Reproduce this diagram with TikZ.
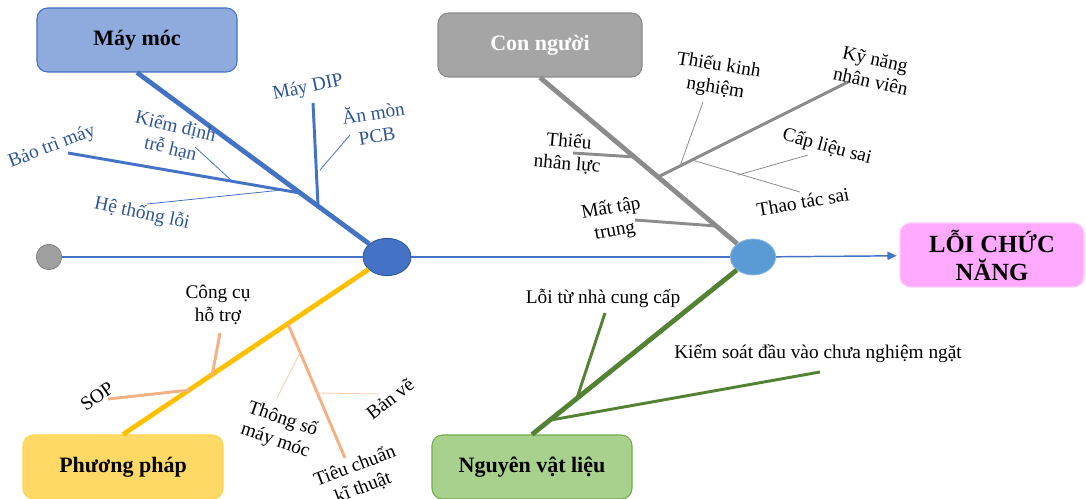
\documentclass[tikz,border=0pt]{standalone}
\usepackage{fontspec}
\setmainfont{Liberation Serif}
\usetikzlibrary{arrows.meta,shapes.geometric}
\definecolor{mayfill}{HTML}{8FAADC}
\definecolor{mayline}{HTML}{4472C4}
\definecolor{maytext}{HTML}{2F5597}
\definecolor{conline}{HTML}{8C8C8C}
\definecolor{confill}{HTML}{A5A5A5}
\definecolor{ppline}{HTML}{FFC000}
\definecolor{ppfill}{HTML}{FFD966}
\definecolor{ppsub}{HTML}{F4B183}
\definecolor{pptwig}{HTML}{F8CBAD}
\definecolor{nvline}{HTML}{548235}
\definecolor{nvfill}{HTML}{A9D18E}
\definecolor{nvdraw}{HTML}{70AD47}
\definecolor{lofill}{HTML}{FFA9FF}
\definecolor{lodraw}{HTML}{FFCCFF}
\definecolor{headfill}{HTML}{5B9BD5}
\tikzset{
  catbox/.style={draw,rounded corners=8pt,line width=0.8pt,minimum width=150pt,
    minimum height=48pt,font=\fontsize{16.5}{19}\selectfont\bfseries},
  bone/.style={line width=3.6pt},
  subbone/.style={line width=2.2pt},
  twig/.style={line width=0.6pt},
  lbl/.style={align=center,inner sep=0pt,font=\fontsize{14.5}{17}\selectfont},
}
\begin{document}
\begin{tikzpicture}[x=0.75pt,y=-0.75pt]
\useasboundingbox (0,0) rectangle (1086,499);
% category boxes and head
\node[catbox,fill=mayfill,draw=mayline] (may) at (137,40) {Máy móc};
\node[catbox,fill=confill,draw=conline,text=white,minimum width=153pt] (con) at (540,45) {Con người};
\node[catbox,fill=ppfill,draw=ppline!70] (pp) at (123,467) {Phương pháp};
\node[catbox,fill=nvfill,draw=nvdraw] (nv) at (532,467) {Nguyên vật liệu};
\node[catbox,fill=lofill,draw=lodraw,minimum width=138pt,align=center,
  font=\fontsize{18.5}{21}\selectfont\bfseries] (lo) at (992,255) {LỖI CHỨC\\NĂNG};
% spine
\node[circle,fill=gray!75,draw=gray,line width=0.6pt,minimum size=19pt,inner sep=0pt] (tail) at (49,257) {};
\node[ellipse,fill=mayline,draw=maytext,line width=0.6pt,minimum width=36pt,minimum height=28pt,inner sep=0pt] (e1) at (387,257) {};
\node[ellipse,fill=headfill,draw=headfill!70,line width=0.6pt,minimum width=34pt,minimum height=27pt,inner sep=0pt] (e2) at (753,257) {};
\draw[mayline,line width=1.1pt] (tail) -- (e1);
\draw[mayline,line width=1.1pt] (e1) -- (e2);
\draw[mayline,line width=1.1pt,-{Triangle[length=7pt,width=6pt]},shorten >=2pt] (e2) -- (lo);

% May moc
\coordinate (bt) at (68,153);
\coordinate (btj) at (300,193);
\coordinate (dip) at (313,103);
\coordinate (dipj) at (318,205);
\coordinate (amj) at (320,170);
\coordinate (am) at (350,135);
\coordinate (kd) at (195,147);
\coordinate (kdj) at (232,181);
\coordinate (ht) at (147,204);
\coordinate (htj) at (282,190);
\draw[bone,mayline] (may.south) -- (e1);
\draw[subbone,mayline] (bt) -- (btj);
\draw[subbone,mayline] (dip) -- (dipj);
\draw[twig,mayline] (amj) -- (am);
\draw[twig,mayline] (kd) -- (kdj);
\draw[twig,mayline] (ht) -- (htj);
\node[lbl,text=maytext,rotate=21] (lbt) at (52,147) {Bảo trì máy};
\node[lbl,text=maytext,rotate=-13] (lkd) at (173,138) {Kiểm định\\trễ hạn};
\node[lbl,text=maytext,rotate=12] (ldip) at (308,88) {Máy DIP};
\node[lbl,text=maytext,rotate=9] (lam) at (375,123) {Ăn mòn\\PCB};
\node[lbl,text=maytext,rotate=-12] (lht) at (142,214) {Hệ thống lỗi};

% Con nguoi
\coordinate (tnl) at (573,153);
\coordinate (tnlj) at (635,157);
\coordinate (mtt) at (635,220);
\coordinate (mttj) at (716,226);
\coordinate (knj) at (658,177);
\coordinate (kn) at (848,82);
\coordinate (tkn) at (703,102);
\coordinate (tknj) at (680,166);
\coordinate (ttj) at (692,160);
\coordinate (tt) at (800,192);
\coordinate (clj) at (738,175);
\coordinate (cl) at (808,155);
\draw[bone,conline] (con.south) -- (e2);
\draw[subbone,conline] (tnl) -- (tnlj);
\draw[subbone,conline] (mtt) -- (mttj);
\draw[subbone,conline] (knj) -- (kn);
\draw[twig,conline] (tkn) -- (tknj);
\draw[twig,conline] (ttj) -- (tt);
\draw[twig,conline] (clj) -- (cl);
\node[lbl,rotate=-5] (ltnl) at (568,153) {Thiếu\\nhân lực};
\node[lbl,rotate=-9] (ltkn) at (717,77) {Thiếu kinh\\nghiệm};
\node[lbl,rotate=-12] (lkn) at (873,70) {Kỹ năng\\nhân viên};
\node[lbl,rotate=-15] (lcl) at (827,147) {Cấp liệu sai};
\node[lbl,rotate=10] (ltt) at (803,202) {Thao tác sai};
\node[lbl,rotate=10] (lmtt) at (613,220) {Mất tập\\trung};

% Phuong phap
\coordinate (sop) at (108,399);
\coordinate (sopj) at (190,390);
\coordinate (cc) at (220,333);
\coordinate (ccj) at (212,376);
\coordinate (tcj) at (288,324);
\coordinate (tc) at (345,458);
\coordinate (tsj) at (300,353);
\coordinate (ts) at (277,398);
\coordinate (bvj) at (317,393);
\coordinate (bv) at (380,394);
\draw[bone,ppline] (pp.north) -- (e1);
\draw[subbone,ppsub] (sop) -- (sopj);
\draw[subbone,ppsub] (cc) -- (ccj);
\draw[subbone,ppsub] (tcj) -- (tc);
\draw[twig,pptwig] (tsj) -- (ts);
\draw[twig,pptwig] (bvj) -- (bv);
\node[lbl] (lcc) at (218,305) {Công cụ\\hỗ trợ};
\node[lbl,rotate=35] (lsop) at (97,396) {SOP};
\node[lbl,rotate=-19] (lts) at (279,430) {Thông số\\máy móc};
\node[lbl,rotate=21] (ltc) at (359,477) {Tiêu chuẩn\\kĩ thuật};
\node[lbl,rotate=38] (lbv) at (390,399) {Bản vẽ};

% Nguyen vat lieu
\coordinate (ncc) at (605,313);
\coordinate (nccj) at (577,398);
\coordinate (ksj) at (551,420);
\coordinate (ks) at (820,372);
\draw[bone,nvline] (nv.north) -- (e2);
\draw[subbone,nvline] (ncc) -- (nccj);
\draw[subbone,nvline] (ksj) -- (ks);
\node[lbl] (lncc) at (603,298) {Lỗi từ nhà cung cấp};
\node[lbl] (lks) at (818,354) {Kiểm soát đầu vào chưa nghiệm ngặt};
\end{tikzpicture}
\end{document}
